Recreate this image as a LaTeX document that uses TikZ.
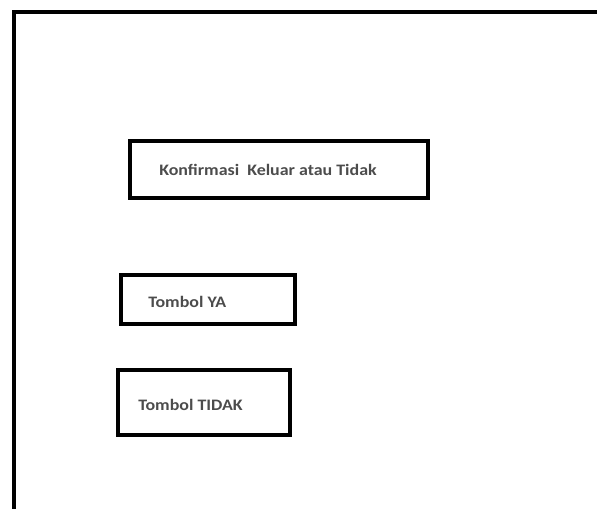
\documentclass[tikz,border=0pt]{standalone}
\usepackage{fontspec}
\setmainfont{Carlito}
\newfontfamily\lblfont[FakeStretch=1.12]{Carlito}
\begin{document}
\begin{tikzpicture}[x=0.75pt,y=-0.75pt,
  frameline/.style={line width=3pt, line cap=butt},
  boxline/.style={draw, line width=3.6pt},
  lbl/.style={anchor=west, inner sep=0pt, font=\lblfont\bfseries\fontsize{12}{14}\selectfont, text=black!70}]
\useasboundingbox (0,0) rectangle (597,508);
\coordinate (fbl) at (13.5,510);
\coordinate (ftl) at (13.5,12);
\coordinate (ftr) at (599,12);
\draw[frameline] (fbl) -- (ftl) -- (ftr);
\draw[boxline] (130,141) rectangle (428,198);
\node[lbl] (t1) at (159,170) {Konfirmasi\ \ Keluar atau Tidak};
\draw[boxline] (121,275) rectangle (295,324);
\node[lbl] (t2) at (148,302) {Tombol YA};
\draw[boxline] (118,370) rectangle (290,435);
\node[lbl] (t3) at (138,405) {Tombol TIDAK};
\end{tikzpicture}
\end{document}
